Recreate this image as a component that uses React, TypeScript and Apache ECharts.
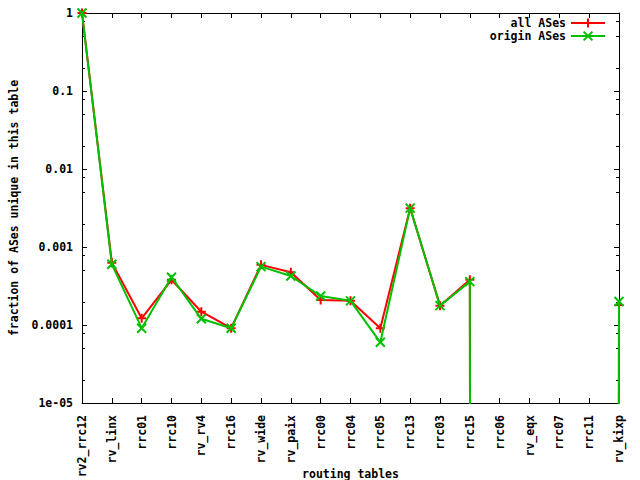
import React, { useEffect, useRef } from 'react';
import * as echarts from 'echarts';

const categories = ['rv2_rrc12', 'rv_linx', 'rrc01', 'rrc10', 'rv_rv4', 'rrc16', 'rv_wide', 'rv_paix', 'rrc00', 'rrc04', 'rrc05', 'rrc13', 'rrc03', 'rrc15', 'rrc06', 'rv_eqx', 'rrc07', 'rrc11', 'rv_kixp'];
const allASes = [1, 6.3e-4, 1.22e-4, 3.8e-4, 1.48e-4, 9.1e-5, 5.9e-4, 4.75e-4, 2.09e-4, 2.04e-4, 9.1e-5, 3.15e-3, 1.77e-4, 3.8e-4, 0, 0, 0, 0, 1.8e-4];
const originASes = [1, 6.0e-4, 9.1e-5, 4.1e-4, 1.2e-4, 9.1e-5, 5.6e-4, 4.25e-4, 2.35e-4, 2.04e-4, 6.0e-5, 3.15e-3, 1.77e-4, 3.6e-4, 0, 0, 0, 0, 2.0e-4];
const seriesNames = ['all ASes', 'origin ASes'];
const yTickValues = [1e-5, 1e-4, 1e-3, 1e-2, 1e-1, 1];
const yTickLabels = ['1e-05', '0.0001', '0.001', '0.01', '0.1', '1'];
const minorTickValues = [2e-5, 5e-5, 8e-5, 2e-4, 5e-4, 8e-4, 2e-3, 5e-3, 8e-3, 0.02, 0.05, 0.08, 0.2, 0.5, 0.8];
const xTitle = 'routing tables';
const yTitle = 'fraction of ASes unique in this table';

const FONT = '"DejaVu Sans Mono", "Liberation Mono", monospace';

export default function App() {
  const ref = useRef<HTMLDivElement>(null);
  useEffect(() => {
    const chart = echarts.init(ref.current!, null, { renderer: 'svg' });
    const LOG_FLOOR = 1e-300; // zero values drop off the log axis
    const toPlot = (arr: number[]) => arr.map((v) => (v > 0 ? v : LOG_FLOOR));
    const txt = { fontFamily: FONT, fontWeight: 'bold' as const, fontSize: 11.5, color: '#000' };
    const blackLine = { show: true, lineStyle: { color: '#000', width: 1 } };
    const fmt = (v: number) => {
      const i = yTickValues.findIndex((t) => Math.abs(Math.log10(t) - Math.log10(v)) < 1e-6);
      return i >= 0 ? yTickLabels[i] : '';
    };
    const majorLog = (position: 'left' | 'right', labels: boolean) => ({
      type: 'log',
      logBase: 10,
      position,
      min: 1e-5,
      max: 1,
      axisLine: blackLine,
      splitLine: { show: false },
      axisTick: { show: true, inside: true, length: 5, lineStyle: { color: '#000', width: 1 } },
      axisLabel: labels ? { ...txt, margin: 9, formatter: fmt } : { show: false },
      ...(labels
        ? {
            name: yTitle,
            nameLocation: 'middle',
            nameGap: 62,
            nameRotate: 90,
            nameMoveOverlap: false,
            nameTextStyle: { ...txt },
          }
        : {}),
    });

    chart.setOption({
      animation: false,
      backgroundColor: '#fff',
      grid: { left: 82, right: 21, top: 13, bottom: 77, containLabel: false, outerBoundsMode: 'none' },
      xAxis: [
        {
          type: 'category',
          data: categories,
          boundaryGap: false,
          position: 'bottom',
          axisLine: blackLine,
          axisTick: { show: true, inside: true, length: 5, interval: 0, lineStyle: { color: '#000' } },
          axisLabel: { ...txt, rotate: 90, interval: 0, margin: 12 },
          splitLine: { show: false },
          name: xTitle,
          nameLocation: 'middle',
          nameGap: 65,
          nameMoveOverlap: false,
          nameTextStyle: { ...txt },
        },
        {
          type: 'category',
          data: categories,
          boundaryGap: false,
          position: 'top',
          axisLine: blackLine,
          axisTick: { show: true, inside: true, length: 5, interval: 0, lineStyle: { color: '#000' } },
          axisLabel: { show: false },
          splitLine: { show: false },
        },
      ],
      yAxis: [majorLog('left', true), majorLog('right', false)],
      legend: [
        {
          data: [seriesNames[0]],
          right: 34,
          top: 17,
          orient: 'vertical',
          align: 'right',
          itemWidth: 34,
          itemHeight: 11,
          padding: 0,
          selectedMode: false,
          textStyle: { ...txt },
        },
        {
          data: [seriesNames[1]],
          right: 34,
          top: 30,
          orient: 'vertical',
          align: 'right',
          itemWidth: 34,
          itemHeight: 11,
          padding: 0,
          selectedMode: false,
          textStyle: { ...txt },
        },
      ],
      series: [
        {
          name: 'minor ticks',
          type: 'custom',
          xAxisIndex: 0,
          yAxisIndex: 0,
          silent: true,
          clip: false,
          z: 1,
          data: minorTickValues.map((v) => [0, v]),
          renderItem: (params: any, api: any) => {
            const y = Math.round(api.coord([0, api.value(1)])[1]) + 0.5;
            const cs = params.coordSys;
            const st = { stroke: '#000', lineWidth: 1 };
            return {
              type: 'group',
              children: [
                { type: 'line', shape: { x1: cs.x, y1: y, x2: cs.x + 3, y2: y }, style: st },
                { type: 'line', shape: { x1: cs.x + cs.width - 3, y1: y, x2: cs.x + cs.width, y2: y }, style: st },
              ],
            };
          },
        },
        {
          name: seriesNames[0],
          type: 'line',
          data: toPlot(allASes),
          xAxisIndex: 0,
          yAxisIndex: 0,
          symbol: 'path://M0,5L10,5M5,0L5,10',
          symbolSize: 9,
          showAllSymbol: true,
          clip: true,
          lineStyle: { color: '#ff0000', width: 2 },
          itemStyle: { color: '#ff0000', borderColor: '#ff0000', borderWidth: 2 },
          emphasis: { disabled: true },
          z: 2,
        },
        {
          name: seriesNames[1],
          type: 'line',
          data: toPlot(originASes),
          xAxisIndex: 0,
          yAxisIndex: 0,
          symbol: 'path://M0,0L10,10M10,0L0,10',
          symbolSize: 9,
          showAllSymbol: true,
          clip: true,
          lineStyle: { color: '#00c000', width: 2 },
          itemStyle: { color: '#00c000', borderColor: '#00c000', borderWidth: 2 },
          emphasis: { disabled: true },
          z: 3,
        },
      ],
    });
    return () => chart.dispose();
  }, []);
  return <div ref={ref} style={{ position: 'fixed', left: 0, top: 0, width: 640, height: 480 }} />;
}
